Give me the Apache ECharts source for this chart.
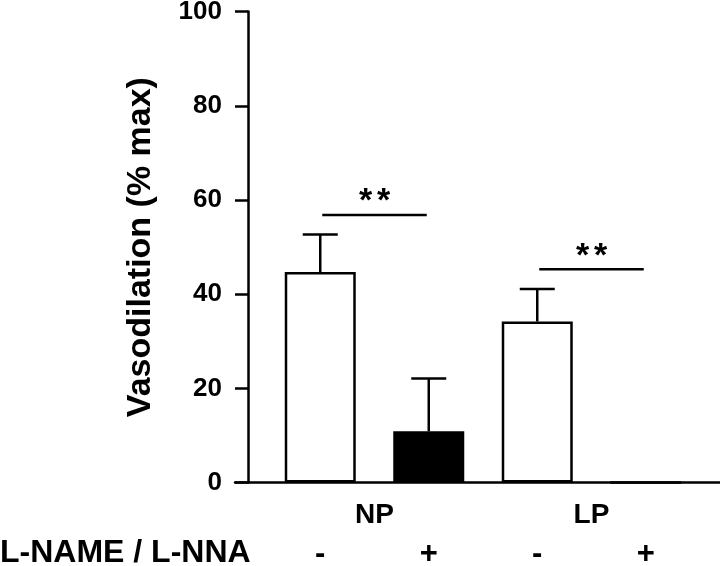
<!DOCTYPE html>
<html>
<head>
<meta charset="utf-8">
<script src="https://cdn.jsdelivr.net/npm/echarts@6/dist/echarts.min.js"></script>
<style>
html,body{margin:0;padding:0;background:#fff;}
#chart{width:720px;height:566px;}
</style>
</head>
<body>
<div id="chart"></div>
<script>
// ---- data ----
const categories = ['NP-', 'NP+', 'LP-', 'LP+'];
const signLabels = ['-', '+', '-', '+'];
const groups = ['NP', 'LP'];
const means = [44.7, 10.9, 34.2, 0];
const errUpper = [52.7, 22.1, 41.1, null];
const barFills = ['#ffffff', '#000000', '#ffffff', '#000000'];
const sigPairs = [[0, 1, 56.8], [2, 3, 45.3]];
const sigText = '**';
const yTicks = { min: 0, max: 100, interval: 20 };
const yTitle = 'Vasodilation (% max)';
const rowTitle = 'L-NAME / L-NNA';

const FONT = '"Liberation Sans", Arial, Helvetica, sans-serif';
const LW = 2.5;

const chart = echarts.init(document.getElementById('chart'), null, { renderer: 'canvas' });

const errData = [];
means.forEach((m, i) => { if (errUpper[i] != null) errData.push([i, m, errUpper[i]]); });

const option = {
  animation: false,
  backgroundColor: '#ffffff',
  title: {
    text: rowTitle,
    left: 0,
    top: 537.5,
    padding: 0,
    textStyle: { fontFamily: FONT, fontSize: 32, fontWeight: 'bold', color: '#000' }
  },
  grid: [
    { left: 266, right: 20, top: 11.6, bottom: 83.4, containLabel: false, outerBoundsMode: 'none' },
    { left: 235, right: 0, top: 11.6, bottom: 83.4, containLabel: false, outerBoundsMode: 'none' }
  ],
  xAxis: [
    {
      gridIndex: 0, type: 'category', data: categories, position: 'bottom',
      axisLine: { show: false }, axisTick: { show: false }, splitLine: { show: false },
      axisLabel: {
        margin: 56, fontFamily: FONT, fontSize: 31, fontWeight: 'bold', color: '#000',
        formatter: (v, i) => signLabels[i]
      }
    },
    {
      gridIndex: 0, type: 'category', data: groups, position: 'bottom',
      axisLine: { show: false }, axisTick: { show: false }, splitLine: { show: false },
      axisLabel: { margin: 18.5, fontFamily: FONT, fontSize: 28, fontWeight: 'bold', color: '#000' }
    },
    {
      gridIndex: 1, type: 'value', position: 'bottom', min: 0, max: 1,
      axisLine: { show: true, lineStyle: { color: '#000', width: LW } },
      axisTick: { show: false }, axisLabel: { show: false }, splitLine: { show: false }
    }
  ],
  yAxis: [
    {
      gridIndex: 0, type: 'value', min: yTicks.min, max: yTicks.max, interval: yTicks.interval,
      offset: 18,
      axisLine: { show: true, lineStyle: { color: '#000', width: LW } },
      axisTick: { show: true, length: 13, lineStyle: { color: '#000', width: LW } },
      splitLine: { show: false },
      axisLabel: { margin: 26, fontFamily: FONT, fontSize: 26, fontWeight: 'bold', color: '#000' },
      name: yTitle, nameLocation: 'middle', nameGap: 90, nameRotate: 90,
      nameTextStyle: { fontFamily: FONT, fontSize: 34, fontWeight: 'bold', color: '#000' }
    },
    { gridIndex: 1, type: 'value', show: false, min: 0, max: 1 }
  ],
  series: [
    {
      type: 'bar', xAxisIndex: 0, yAxisIndex: 0, barWidth: 71,
      data: means.map((v, i) => ({
        value: v,
        itemStyle: { color: barFills[i], borderColor: '#000', borderWidth: LW }
      }))
    },
    {
      type: 'custom', xAxisIndex: 0, yAxisIndex: 0, z: 5,
      encode: { x: 0, y: [1, 2] },
      data: errData,
      renderItem: (params, api) => {
        const x = api.value(0);
        const top = api.coord([x, api.value(2)]);
        const base = api.coord([x, api.value(1)]);
        const half = 17.5;
        const st = { stroke: '#000', lineWidth: LW };
        return {
          type: 'group',
          children: [
            { type: 'line', shape: { x1: top[0], y1: base[1], x2: top[0], y2: top[1] }, style: st },
            { type: 'line', shape: { x1: top[0] - half, y1: top[1], x2: top[0] + half, y2: top[1] }, style: st }
          ]
        };
      }
    },
    {
      type: 'custom', xAxisIndex: 0, yAxisIndex: 0, z: 5,
      encode: { x: [0, 1], y: 2 },
      data: sigPairs,
      renderItem: (params, api) => {
        const p1 = api.coord([api.value(0), api.value(2)]);
        const p2 = api.coord([api.value(1), api.value(2)]);
        const x1 = p1[0] + 2, x2 = p2[0] - 2;
        const mid = (x1 + x2) / 2;
        const y = p1[1];
        const chars = sigText.split('');
        const sp = 18;
        const children = [
          { type: 'line', shape: { x1: x1, y1: y, x2: x2, y2: y }, style: { stroke: '#000', lineWidth: LW } }
        ];
        chars.forEach((c, k) => {
          children.push({
            type: 'text',
            style: {
              text: c, x: mid + (k - (chars.length - 1) / 2) * sp, y: y - 13,
              fontFamily: FONT, fontSize: 34, fontWeight: 'bold', fill: '#000',
              align: 'center', verticalAlign: 'middle'
            }
          });
        });
        return { type: 'group', children: children };
      }
    }
  ]
};
chart.setOption(option);
</script>
</body>
</html>
